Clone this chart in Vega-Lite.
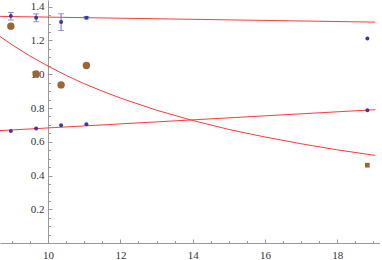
{
  "$schema": "https://vega.github.io/schema/vega-lite/v6.json",
  "width": 380,
  "height": 243,
  "padding": 0,
  "config": {
    "view": {"stroke": null},
    "axis": {
      "grid": false,
      "title": null,
      "domainColor": "#9a9a9a",
      "tickColor": "#9a9a9a",
      "labelFont": "Liberation Serif",
      "labelFontSize": 11,
      "labelColor": "#333333",
      "labelOverlap": false
    }
  },
  "datasets": {
    "fits": [
      {"x": 8.67, "y": 1.343, "fit": "top"},
      {"x": 19.05, "y": 1.309, "fit": "top"},
      {"x": 8.67, "y": 0.666, "fit": "low"},
      {"x": 19.05, "y": 0.79, "fit": "low"},
      {"x": 8.67, "y": 1.224, "fit": "decay"},
      {"x": 9.0, "y": 1.175, "fit": "decay"},
      {"x": 9.5, "y": 1.108, "fit": "decay"},
      {"x": 10.0, "y": 1.048, "fit": "decay"},
      {"x": 10.5, "y": 0.993, "fit": "decay"},
      {"x": 11.0, "y": 0.944, "fit": "decay"},
      {"x": 11.5, "y": 0.9, "fit": "decay"},
      {"x": 12.0, "y": 0.859, "fit": "decay"},
      {"x": 13.0, "y": 0.787, "fit": "decay"},
      {"x": 14.0, "y": 0.726, "fit": "decay"},
      {"x": 15.0, "y": 0.673, "fit": "decay"},
      {"x": 16.0, "y": 0.628, "fit": "decay"},
      {"x": 17.0, "y": 0.588, "fit": "decay"},
      {"x": 18.0, "y": 0.552, "fit": "decay"},
      {"x": 19.05, "y": 0.519, "fit": "decay"}
    ],
    "errs": [
      {"x": 8.97, "y": 1.322, "hi": 1.366},
      {"x": 9.67, "y": 1.311, "hi": 1.358},
      {"x": 10.36, "y": 1.259, "hi": 1.358},
      {"x": 11.06, "y": 1.328, "hi": 1.342}
    ],
    "caps": [
      {"x": 8.97, "y": 1.322},
      {"x": 8.97, "y": 1.366},
      {"x": 9.67, "y": 1.311},
      {"x": 9.67, "y": 1.358},
      {"x": 10.36, "y": 1.259},
      {"x": 10.36, "y": 1.358},
      {"x": 11.06, "y": 1.328},
      {"x": 11.06, "y": 1.342}
    ],
    "blue": [
      {"x": 8.97, "y": 1.345},
      {"x": 9.67, "y": 1.335},
      {"x": 10.36, "y": 1.309},
      {"x": 11.06, "y": 1.335},
      {"x": 18.83, "y": 1.212},
      {"x": 8.97, "y": 0.664},
      {"x": 9.67, "y": 0.678},
      {"x": 10.36, "y": 0.698},
      {"x": 11.06, "y": 0.704},
      {"x": 18.83, "y": 0.786}
    ],
    "brown": [
      {"x": 8.97, "y": 1.285},
      {"x": 9.67, "y": 1.001},
      {"x": 10.36, "y": 0.937},
      {"x": 11.06, "y": 1.052}
    ],
    "brownsq": [
      {"x": 18.83, "y": 0.461}
    ]
  },
  "encoding": {
    "x": {
      "field": "x", "type": "quantitative",
      "scale": {"domain": [8.67, 19.18], "nice": false, "zero": false},
      "axis": {
        "values": [9, 9.5, 10, 10.5, 11, 11.5, 12, 12.5, 13, 13.5, 14, 14.5, 15, 15.5, 16, 16.5, 17, 17.5, 18, 18.5, 19],
        "labelExpr": "abs(datum.value / 2 - round(datum.value / 2)) < 0.001 ? format(datum.value, 'd') : ''",
        "tickSize": {"condition": {"test": "abs(datum.value / 2 - round(datum.value / 2)) < 0.001", "value": -4}, "value": -2.5},
        "labelPadding": 10,
        "labelFlush": false,
        "labelOverlap": false
      }
    },
    "y": {
      "field": "y", "type": "quantitative",
      "scale": {"domain": [0, 1.44], "nice": false},
      "axis": {
        "offset": -48,
        "values": [0.05, 0.1, 0.15, 0.2, 0.25, 0.3, 0.35, 0.4, 0.45, 0.5, 0.55, 0.6, 0.65, 0.7, 0.75, 0.8, 0.85, 0.9, 0.95, 1.0, 1.05, 1.1, 1.15, 1.2, 1.25, 1.3, 1.35, 1.4],
        "labelExpr": "abs(datum.value * 5 - round(datum.value * 5)) < 0.001 ? format(datum.value, '.1f') : ''",
        "tickSize": {"condition": {"test": "abs(datum.value * 5 - round(datum.value * 5)) < 0.001", "value": -4}, "value": -2.5},
        "labelPadding": 8,
        "labelFlush": false,
        "labelOverlap": false
      }
    }
  },
  "layer": [
    {
      "data": {"name": "fits"},
      "mark": {"type": "line", "color": "#ff3b3b", "strokeWidth": 1, "clip": true},
      "encoding": {
        "detail": {"field": "fit"}
      }
    },
    {
      "data": {"name": "errs"},
      "mark": {"type": "rule", "color": "#6b6bc4", "strokeWidth": 1},
      "encoding": {
        "y2": {"field": "hi"}
      }
    },
    {
      "data": {"name": "caps"},
      "mark": {"type": "tick", "orient": "horizontal", "color": "#6b6bc4", "size": 6, "thickness": 1},
      "encoding": {}
    },
    {
      "data": {"name": "brown"},
      "mark": {"type": "circle", "color": "#9c6633", "opacity": 1, "size": 55},
      "encoding": {}
    },
    {
      "data": {"name": "brownsq"},
      "mark": {"type": "square", "color": "#9c6633", "opacity": 1, "size": 22},
      "encoding": {}
    },
    {
      "data": {"name": "blue"},
      "mark": {"type": "circle", "color": "#3a3a98", "opacity": 1, "size": 16},
      "encoding": {}
    }
  ]
}
